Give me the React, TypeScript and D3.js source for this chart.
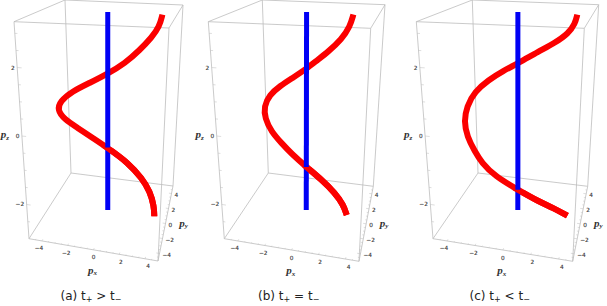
import React from "react";
import * as d3 from "d3";

// curves, drawn on the p_y = 0 plane
const pxA = [4.0, 3.81, 3.27, 2.43, 1.31, -0.03, -1.37, -2.81, -3.75, -4.0, -3.5, -2.37, -1.17, -0.04, 1.7, 2.84, 3.57, 3.95, 4.01];
const pzA = [3.38, 3.0, 2.66, 2.26, 1.81, 1.44, 1.12, 0.79, 0.44, 0.16, -0.12, -0.37, -0.64, -0.885, -1.29, -1.71, -2.09, -2.53, -2.83];
const pxB = [3.28, 3.07, 2.51, 1.57, 0.74, -0.01, -0.97, -1.97, -2.78, -3.22, -3.18, -2.72, -1.93, -1.16, 0, 1.24, 2.34, 3.05, 3.36];
const pzB = [3.37, 2.99, 2.59, 2.18, 1.88, 1.6, 1.3, 1.0, 0.68, 0.3, -0.08, -0.49, -0.83, -1.13, -1.49, -1.83, -2.19, -2.52, -2.82];
const pxC = [4.03, 3.9, 3.47, 2.57, 1.43, -0.01, -1.03, -2.12, -3.12, -3.75, -4.0, -3.82, -3.28, -2.78, -1.78, -0.01, 1.62, 2.81, 3.95];
const pzC = [3.38, 3.09, 2.79, 2.48, 2.18, 1.77, 1.51, 1.18, 0.78, 0.28, -0.22, -0.69, -1.15, -1.49, -1.87, -2.21, -2.49, -2.63, -2.81];

// the vertical blue line at p_x = p_y = 0
const axisPz = [-2.85, 3.39];

const xyDomain = [-5, 5];
const zDomain = [-3, 3.34];
const xyTicks = [-4, -2, 0, 2, 4];
const zTicks = [-2, 0, 2];
const xyMinor = d3.range(-4.5, 5, 0.5);
const zMinor = d3.range(-2.5, 3.5, 0.5);

const captions = ["(a)", "(b)", "(c)"];
const relations = [">", "=", "<"];

type Pt = [number, number];
// corners of each box on screen: bottom then top; front-left, front-right, back-left, back-right
const panels: { px: number[]; pz: number[]; bottom: Pt[]; top: Pt[]; capX: number }[] = [
  {
    px: pxA,
    pz: pzA,
    bottom: [[29, 238.7], [158, 261], [71, 173], [173, 186]],
    top: [[14, 21.7], [169, 28], [65, 0], [183, 5]],
    capX: 91,
  },
  {
    px: pxB,
    pz: pzB,
    bottom: [[224.3, 238.7], [359, 261.3], [268.3, 173], [373.3, 186.3]],
    top: [[208.3, 21.7], [370.7, 28.3], [262.3, 0], [385, 4.7]],
    capX: 288.7,
  },
  {
    px: pxC,
    pz: pzC,
    bottom: [[433, 238.7], [572.7, 261.3], [478, 173], [587.7, 186.3]],
    top: [[416.3, 21.7], [584.3, 28.3], [472.3, 0], [598.7, 4.7]],
    capX: 499.7,
  },
];

const tX = d3.scaleLinear().domain(xyDomain).range([0, 1]);
const tY = d3.scaleLinear().domain(xyDomain).range([0, 1]);
const tZ = d3.scaleLinear().domain(zDomain).range([0, 1]);

const lerp = (a: Pt, b: Pt, t: number): Pt => [a[0] + (b[0] - a[0]) * t, a[1] + (b[1] - a[1]) * t];

const projector = (p: (typeof panels)[number]) => (x: number, y: number, z: number): Pt => {
  const u = tX(x);
  const v = tY(y);
  const bot = lerp(lerp(p.bottom[0], p.bottom[1], u), lerp(p.bottom[2], p.bottom[3], u), v);
  const top = lerp(lerp(p.top[0], p.top[1], u), lerp(p.top[2], p.top[3], u), v);
  return lerp(bot, top, tZ(z));
};

const GREY = "#bdbdbd";
const curve = d3.line<Pt>().curve(d3.curveBasis);
const straight = d3.line<Pt>();
const tickText = (v: number) => d3.format("d")(v).replace("-", "\u2212");

const AxisName = ({ x, y, sub }: { x: number; y: number; sub: string }) => (
  <text x={x} y={y} textAnchor="middle" fontFamily="Liberation Serif" fontWeight="bold" fontStyle="italic" fontSize={11} fill="#333">
    p
    <tspan fontSize={7} dy={1.5}>{sub}</tspan>
  </text>
);

const Panel = ({ panel, index }: { panel: (typeof panels)[number]; index: number }) => {
  const proj = projector(panel);
  const [x0, x1] = xyDomain;
  const [y0, y1] = xyDomain;
  const [z0, z1] = zDomain;

  const edges: [Pt, Pt][] = [];
  for (const z of [z0, z1]) {
    edges.push([proj(x0, y0, z), proj(x1, y0, z)]);
    edges.push([proj(x0, y1, z), proj(x1, y1, z)]);
    edges.push([proj(x0, y0, z), proj(x0, y1, z)]);
    edges.push([proj(x1, y0, z), proj(x1, y1, z)]);
  }
  for (const x of [x0, x1]) for (const y of [y0, y1]) edges.push([proj(x, y, z0), proj(x, y, z1)]);

  // short marks pointing into the box along the neighbouring edge
  const tickMarks: [Pt, Pt][] = [];
  for (const v of xyMinor) {
    const len = v % 2 === 0 ? 0.25 : 0.14;
    tickMarks.push([proj(v, y0, z0), proj(v, y0 + len, z0)]);
    tickMarks.push([proj(x1, v, z0), proj(x1 - len, v, z0)]);
  }
  for (const v of zMinor) {
    const len = v % 2 === 0 ? 0.3 : 0.17;
    tickMarks.push([proj(x0, y0, v), proj(x0 + len, y0, v)]);
  }

  const pts = panel.px.map((x, i) => proj(x, 0, panel.pz[i]));
  // red passes in front of the blue line from the lower crossing on
  const crossing = d3.max(panel.px.map((x, i) => (x <= 0 ? i : 0))) as number;
  const blue = axisPz.map((z) => proj(0, 0, z));
  const clipId = `front-${index}`;
  const clipTop = proj(0, 0, panel.pz[crossing])[1];

  const zLabel = proj(x0, y0, 0);
  const xLabel = proj(0, y0, z0);
  const yLabel = proj(x1, 0, z0);

  return (
    <g>
      <g stroke={GREY} strokeWidth={0.8} fill="none">
        {edges.map((e, i) => <path key={i} d={straight(e) as string} />)}
        {tickMarks.map((e, i) => <path key={i} d={straight(e) as string} strokeWidth={0.5} />)}
      </g>

      <clipPath id={clipId}>
        <rect x={panel.capX - 100} y={clipTop} width={200} height={100} />
      </clipPath>
      <path d={curve(pts) as string} fill="none" stroke="#fb0000" strokeWidth={6} />
      <path d={straight(blue) as string} fill="none" stroke="#0000f5" strokeWidth={5} />
      <path d={curve(pts) as string} fill="none" stroke="#fb0000" strokeWidth={6} clipPath={`url(#${clipId})`} />

      <g fontFamily="DejaVu Sans" fontSize={5.8} fontWeight={500} stroke="#333" strokeWidth={0.12} fill="#333">
        {xyTicks.map((v) => {
          const [a, b] = proj(v, y0, z0);
          return <text key={v} x={a + v * 0.75} y={b + 9.5} textAnchor="middle">{tickText(v)}</text>;
        })}
        {xyTicks.map((v) => {
          const [a, b] = proj(x1, v, z0);
          return <text key={v} x={a + 3} y={b + 3.5}>{tickText(v)}</text>;
        })}
        {zTicks.map((v) => {
          const [a, b] = proj(x0, y0, v);
          return <text key={v} x={a - 2.5} y={b + 2} textAnchor="end">{tickText(v)}</text>;
        })}
      </g>

      <AxisName x={zLabel[0] - 17} y={zLabel[1] + 2} sub="z" />
      <AxisName x={xLabel[0] - 1} y={xLabel[1] + 24} sub="x" />
      <AxisName x={yLabel[0] + 18} y={yLabel[1] + 3} sub="y" />

      <text x={panel.capX} y={300} textAnchor="middle" fontFamily="DejaVu Sans" fontSize={12} fill="#222">
        {captions[index]} t
        <tspan fontSize={8} dy={2}>+</tspan>
        <tspan dy={-2}> {relations[index]} t</tspan>
        <tspan fontSize={8} dy={2}>{"\u2212"}</tspan>
      </text>
    </g>
  );
};

export default function App() {
  return (
    <svg width={607} height={306} style={{ position: "absolute", left: 0, top: 0, background: "#fff" }}>
      {panels.map((p, i) => <Panel key={i} panel={p} index={i} />)}
    </svg>
  );
}
